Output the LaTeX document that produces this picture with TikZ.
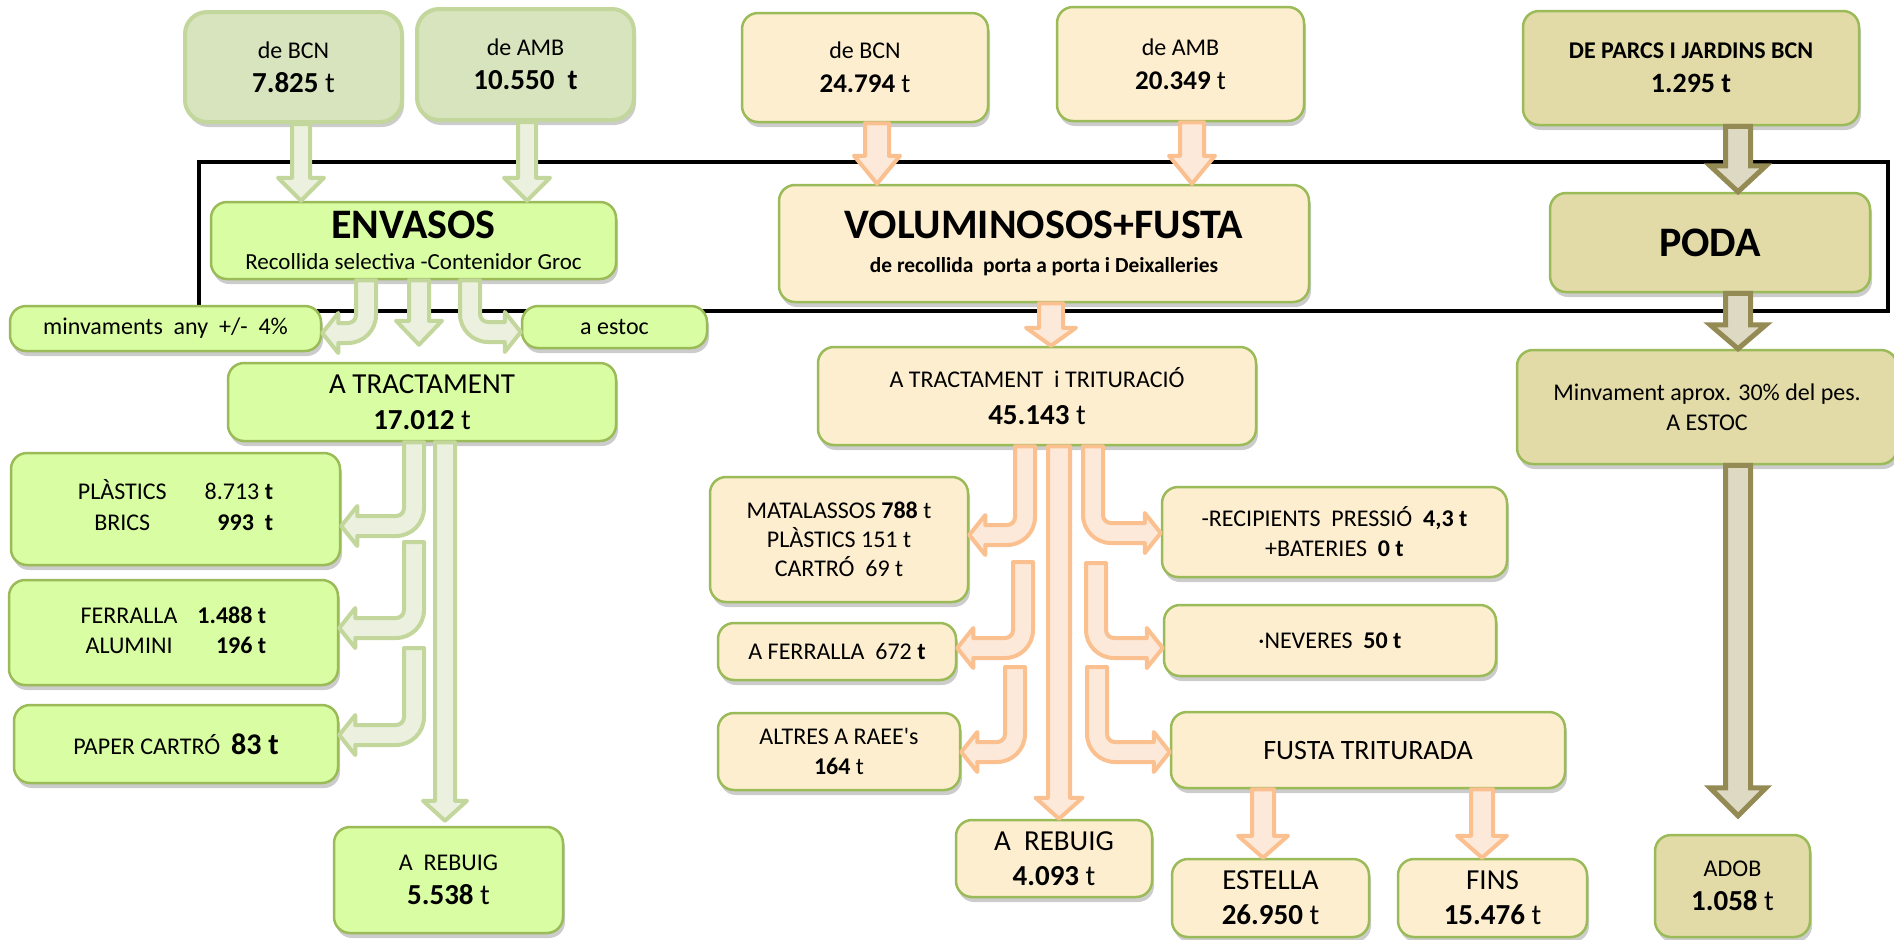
\documentclass[tikz,border=0pt]{standalone}
\usepackage{fontspec}
\setmainfont{Carlito}
\usetikzlibrary{calc, shadows}

\definecolor{gfill}{HTML}{D7E4BD}
\definecolor{gline}{HTML}{C3D69B}
\definecolor{lfill}{HTML}{D9FDA2}
\definecolor{ofill}{HTML}{FDEECF}
\definecolor{kfill}{HTML}{E2DBA8}
\definecolor{boxline}{HTML}{9BBB59}
\definecolor{garrline}{HTML}{C3D69B}
\definecolor{garrfill}{HTML}{EBF1DE}
\definecolor{oarrline}{HTML}{FAC090}
\definecolor{oarrfill}{HTML}{FDE9D9}
\definecolor{karrline}{HTML}{948A54}
\definecolor{karrfill}{HTML}{DDD9C3}

\newcommand{\fsz}[2]{\fontsize{#1}{#2}\selectfont}

\newcommand{\dnarrow}[6]{%
  \draw[#1] let \p1=(#2), \p2=(#3) in
    (\x1-#4,\y1) -- (\x1+#4,\y1) -- (\x1+#4,\y2+#6) -- (\x1+#5,\y2+#6)
    -- (\x1,\y2) -- (\x1-#5,\y2+#6) -- (\x1-#4,\y2+#6) -- cycle;}

\newcommand{\bentl}[3]{%
  \draw[#1] let \p1=(#2), \p2=(#3) in
    (\x1-5pt,\y1) -- (\x1+5pt,\y1) -- (\x1+5pt,\y2+9pt)
    arc[start angle=0,end angle=-90,radius=14pt] -- (\x2+8pt,\y2-5pt)
    -- (\x2+8pt,\y2-10pt) -- (\x2,\y2) -- (\x2+8pt,\y2+10pt) -- (\x2+8pt,\y2+5pt)
    -- (\x1-9pt,\y2+5pt) arc[start angle=-90,end angle=0,radius=4pt] -- cycle;}

\newcommand{\bentr}[3]{%
  \draw[#1] let \p1=(#2), \p2=(#3) in
    (\x1+5pt,\y1) -- (\x1-5pt,\y1) -- (\x1-5pt,\y2+9pt)
    arc[start angle=180,end angle=270,radius=14pt] -- (\x2-8pt,\y2-5pt)
    -- (\x2-8pt,\y2-10pt) -- (\x2,\y2) -- (\x2-8pt,\y2+10pt) -- (\x2-8pt,\y2+5pt)
    -- (\x1+9pt,\y2+5pt) arc[start angle=270,end angle=180,radius=4pt] -- cycle;}

\begin{document}
\begin{tikzpicture}[x=0.5pt, y=-0.5pt,
  box/.style={rounded corners=8pt, line width=1.25pt, draw=boxline, align=center, inner sep=0pt,
    drop shadow={shadow xshift=1pt, shadow yshift=-2.5pt, fill=black!40}},
  gbox/.style={box, fill=gfill, draw=gline, line width=2pt, rounded corners=11pt},
  lbox/.style={box, fill=lfill},
  obox/.style={box, fill=ofill},
  kbox/.style={box, fill=kfill},
  garrow/.style={draw=garrline, fill=garrfill, line width=2pt, line join=round},
  oarrow/.style={draw=oarrline, fill=oarrfill, line width=2pt, line join=round},
  karrow/.style={draw=karrline, fill=karrfill, line width=2.5pt, line join=miter}]

\useasboundingbox (0,0) rectangle (1894,939);

\draw[line width=2pt] (199,162) rectangle (1888,311);

% envasos
\node[gbox, minimum width=108.5pt, minimum height=55pt, font=\fsz{12}{17}] (bcnA) at (293.5,67) {de BCN\\{\fsz{14.5}{17}\textbf{7.825} t}};
\node[gbox, minimum width=108.5pt, minimum height=55.5pt, font=\fsz{12}{17}] (ambA) at (525.5,64.5) {de AMB\\{\fsz{14.5}{17}\textbf{10.550\ \ t}}};
\node[lbox, minimum width=202.5pt, minimum height=38.5pt, font=\fsz{11.5}{15.5}] (envasos) at (413.5,240.5) {{\fsz{21}{15.5}\bfseries ENVASOS}\\Recollida selectiva -Contenidor Groc};
\node[lbox, minimum width=155.5pt, minimum height=22.5pt, font=\fsz{12}{15}] (minv) at (165.5,328.5) {minvaments\ \ any\ \ +/-\ \ 4\%};
\node[lbox, minimum width=92.5pt, minimum height=21pt, font=\fsz{12}{15}] (estoc) at (614.5,327) {a estoc};
\node[lbox, minimum width=194pt, minimum height=39pt, font=\fsz{14.5}{18}] (tractA) at (422,402) {A TRACTAMENT\\{\fsz{14.5}{18}\textbf{17.012}} t};
\node[lbox, minimum width=164.5pt, minimum height=56pt, font=\fsz{12}{15}] (plast) at (175.5,509) {\begin{tabular}{@{}c@{\hspace{19pt}}r@{}}PLÀSTICS & 8.713 \textbf{t}\\[0.5pt] BRICS & \textbf{993\ \ t}\end{tabular}};
\node[lbox, minimum width=164.5pt, minimum height=52.5pt, font=\fsz{12}{15}] (ferr) at (173.5,632.5) {\begin{tabular}{@{}c@{\hspace{10pt}}r@{}}FERRALLA & \textbf{1.488 t}\\ ALUMINI & \textbf{196 t}\end{tabular}};
\node[lbox, minimum width=162pt, minimum height=39pt, font=\fsz{12}{15}] (paper) at (176,744) {PAPER CARTRÓ\ \ {\fsz{15}{15}\textbf{83 t}}};
\node[lbox, minimum width=114.5pt, minimum height=53pt, font=\fsz{12}{17.25}] (rebA) at (448.5,880) {A\ \ REBUIG\\{\fsz{14.5}{17.25}\textbf{5.538} t}};

% voluminosos
\node[obox, minimum width=123pt, minimum height=54.5pt, font=\fsz{12}{17}] (bcnB) at (865,67.5) {de BCN\\{\fsz{13.5}{17}\textbf{24.794} t}};
\node[obox, minimum width=123.5pt, minimum height=57pt, font=\fsz{12}{17}] (ambB) at (1180.5,64) {de AMB\\{\fsz{13.5}{17}\textbf{20.349} t}};
\node[obox, minimum width=265pt, minimum height=58.5pt, font=\fsz{10.7}{16.75}] (volum) at (1044,243.5) {{\fsz{21}{16.75}\bfseries VOLUMINOSOS+FUSTA}\\\textbf{de recollida\ \ porta a porta i Deixalleries}};
\node[obox, minimum width=219pt, minimum height=49pt, font=\fsz{12}{18.5}] (tractB) at (1037,396) {A TRACTAMENT\ \ i TRITURACIÓ\\{\fsz{14.5}{18.5}\textbf{45.143} t}};
\node[obox, minimum width=129pt, minimum height=62.5pt, font=\fsz{12}{14.5}] (matal) at (839,539.5) {MATALASSOS \textbf{788} t\\PLÀSTICS 151 t\\CARTRÓ\ \ 69 t};
\node[obox, minimum width=119pt, minimum height=28.5pt, font=\fsz{12}{15}] (ferrB) at (837,651.5) {A FERRALLA\ \ 672 \textbf{t}};
\node[obox, minimum width=121pt, minimum height=38.5pt, font=\fsz{12}{15}] (altres) at (839,751.5) {ALTRES A RAEE\textquotesingle s\\\textbf{164} t};
\node[obox, minimum width=98pt, minimum height=38.5pt, font=\fsz{14.5}{17.25}] (rebB) at (1054,858.5) {A\ \ REBUIG\\{\fsz{14.5}{17.25}\textbf{4.093} t}};
\node[obox, minimum width=172.5pt, minimum height=45pt, font=\fsz{12}{15}] (recip) at (1334.5,532) {-RECIPIENTS\ \ PRESSIÓ\ \ \textbf{4,3 t}\\+BATERIES\ \ \textbf{0 t}};
\node[obox, minimum width=166pt, minimum height=35.5pt, font=\fsz{12}{15}] (never) at (1330,640.5) {·NEVERES\ \ \textbf{50 t}};
\node[obox, minimum width=197pt, minimum height=38pt, font=\fsz{14}{17}] (fusta) at (1368,750) {FUSTA TRITURADA};
\node[obox, minimum width=98.5pt, minimum height=39pt, font=\fsz{14.5}{17.5}] (estel) at (1270.5,898) {ESTELLA\\\textbf{26.950} t};
\node[obox, minimum width=94.5pt, minimum height=39pt, font=\fsz{14.5}{17.5}] (fins) at (1492.5,898) {FINS\\\textbf{15.476} t};

% poda
\node[kbox, minimum width=168pt, minimum height=57pt, font=\fsz{12}{17}] (parcs) at (1691,68) {\textbf{DE PARCS I JARDINS BCN}\\{\fsz{14}{17}\textbf{1.295 t}}};
\node[kbox, minimum width=160pt, minimum height=49.5pt, font=\fsz{21}{21}] (poda) at (1710,242.5) {\textbf{PODA}};
\node[kbox, minimum width=190pt, minimum height=57pt, font=\fsz{12}{15}] (minvP) at (1707,407) {Minvament aprox. 30\% del pes.\\A ESTOC};
\node[kbox, minimum width=77.5pt, minimum height=51pt, font=\fsz{12}{17}] (adob) at (1732.5,886) {ADOB\\{\fsz{14.5}{17}\textbf{1.058} t}};

\coordinate (gtail2) at (414,542);
\coordinate (gtail3) at (414,648);
\coordinate (otl2) at (1023,562);
\coordinate (otl3) at (1015,667);
\coordinate (otr2) at (1096,563);
\coordinate (otr3) at (1097,667);

\dnarrow{garrow}{301,0 |- bcnA.south}{envasos.north}{4.5pt}{11.5pt}{11.5pt}
\dnarrow{garrow}{527,0 |- ambA.south}{envasos.north}{4.5pt}{11.5pt}{11.5pt}
\bentl{garrow}{366,0 |- envasos.south}{minv.east |- 0,333}
\dnarrow{garrow}{419,0 |- envasos.south}{[yshift=8.5pt]tractA.north}{5pt}{11.5pt}{12pt}
\bentr{garrow}{470,0 |- envasos.south}{estoc.west |- 0,332}
\bentl{garrow}{414,0 |- tractA.south}{plast.east |- 0,526}
\bentl{garrow}{gtail2}{ferr.east |- 0,628}
\bentl{garrow}{gtail3}{paper.east |- 0,735}
\dnarrow{garrow}{445,0 |- tractA.south}{[yshift=2.5pt]rebA.north}{5pt}{11pt}{10pt}

\dnarrow{oarrow}{877,0 |- bcnB.south}{volum.north}{6pt}{11.5pt}{14pt}
\dnarrow{oarrow}{1192,0 |- ambB.south}{volum.north}{6pt}{11.5pt}{14pt}
\dnarrow{oarrow}{1051,0 |- volum.south}{tractB.north}{6pt}{12.5pt}{9pt}
\bentl{oarrow}{1025,0 |- tractB.south}{matal.east |- 0,535}
\bentl{oarrow}{otl2}{ferrB.east |- 0,648}
\bentl{oarrow}{otl3}{altres.east |- 0,752}
\bentr{oarrow}{1093,0 |- tractB.south}{recip.west |- 0,533}
\bentr{oarrow}{otr2}{never.west |- 0,648}
\bentr{oarrow}{otr3}{fusta.west |- 0,752}
\dnarrow{oarrow}{1059,0 |- tractB.south}{rebB.north}{5.5pt}{11.75pt}{10.5pt}
\dnarrow{oarrow}{1263,0 |- fusta.south}{estel.north}{5.5pt}{12.5pt}{11pt}
\dnarrow{oarrow}{1482,0 |- fusta.south}{fins.north}{5.5pt}{12.5pt}{11pt}

\dnarrow{karrow}{1738,0 |- parcs.south}{poda.north}{6.25pt}{14pt}{13pt}
\dnarrow{karrow}{1738,0 |- poda.south}{minvP.north}{6.25pt}{14pt}{12pt}
\dnarrow{karrow}{1738,0 |- minvP.south}{[yshift=9pt]adob.north}{6.25pt}{14pt}{14pt}
\end{tikzpicture}
\end{document}
